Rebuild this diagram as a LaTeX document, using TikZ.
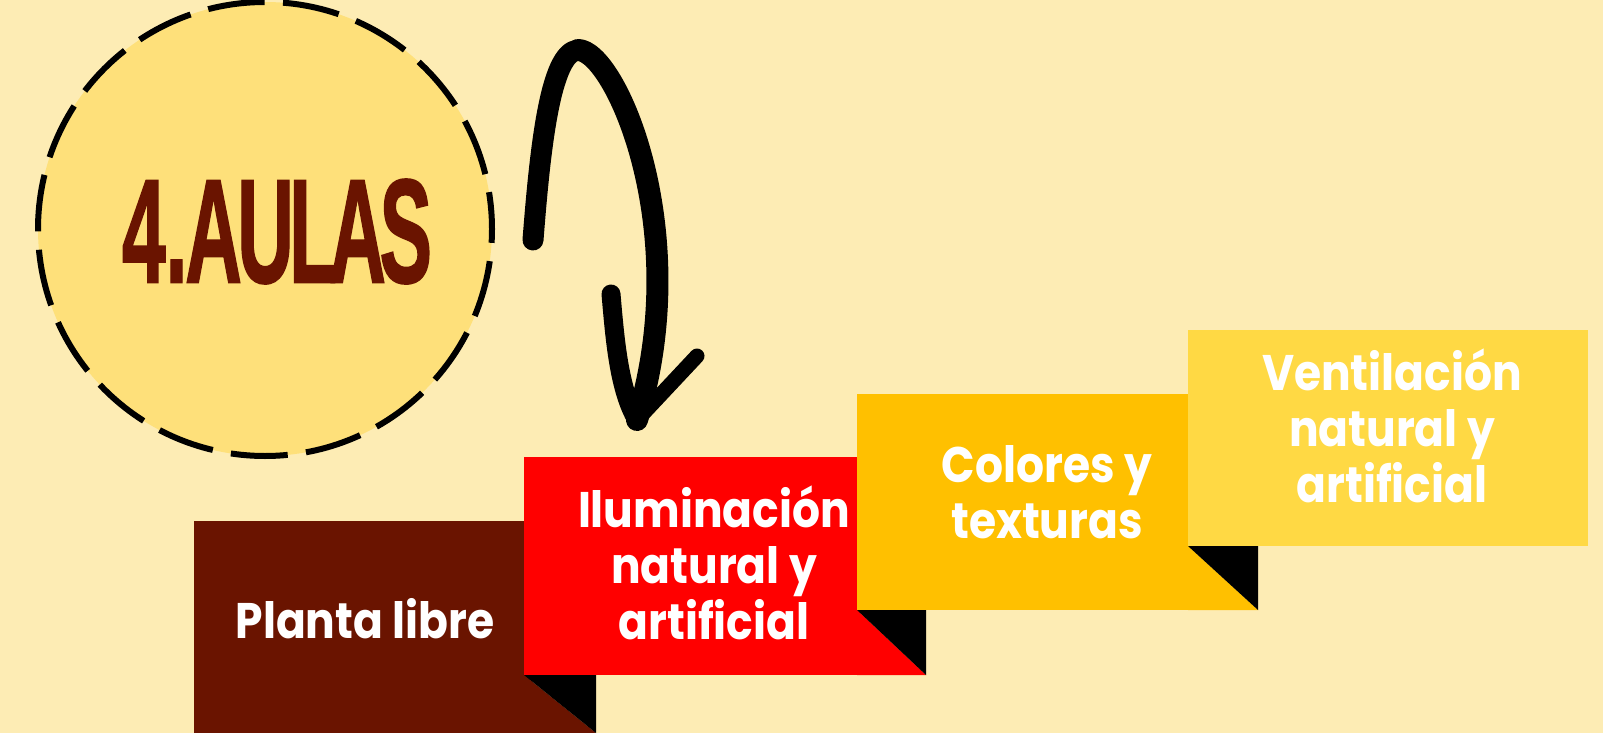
\documentclass[tikz,border=0pt]{standalone}
\usepackage{fontspec}
\newfontfamily\boxfont{Poppins}
\newfontfamily\titlefont[FakeBold=1.5]{Liberation Sans}
\definecolor{bgc}{HTML}{FDECB4}
\definecolor{circfill}{HTML}{FEE07A}
\definecolor{brownc}{HTML}{6A1400}
\definecolor{redc}{HTML}{FF0000}
\definecolor{orangec}{HTML}{FFC000}
\definecolor{yellowc}{HTML}{FFD944}
\tikzset{
  lbl/.style={text=white, font=\boxfont\bfseries\fontsize{50}{56}\selectfont, align=center, inner sep=0pt, transform shape, xscale=0.88},
  fold/.style={fill=black},
  arrowstroke/.style={draw=black, line cap=round, line join=round},
}
\begin{document}
\begin{tikzpicture}[x=1pt,y=-1pt]
\useasboundingbox (0,0) rectangle (1603,733);
\fill[bgc] (0,0) rectangle (1603,733);

% circle
\node[circle, fill=circfill, draw=black, line width=6pt, dash pattern=on 57pt off 18.4pt, dash phase=20pt, minimum size=454pt, inner sep=0pt] (circ) at (265,229) {};
\node[inner sep=0pt, text=brownc] (title) at (277,231.5) {\resizebox{310pt}{103pt}{\titlefont\bfseries 4.\kern-0.03em A\kern-0.06em U\kern-0.06em L\kern-0.1em A\kern-0.08em S}};

% curved arrow
\coordinate (a0) at (533,240);
\coordinate (atop) at (578,50);
\coordinate (atip) at (637,420);
\coordinate (hl0) at (611,294);
\coordinate (hr0) at (697,356);
\draw[arrowstroke, line width=21pt] (a0) .. controls (540,150) and (550,52) .. (atop);
\draw[arrowstroke, line width=22pt] (atop) .. controls (615,50) and (695,230) .. (atip);
\draw[arrowstroke, line width=19pt] (hl0) .. controls (615,340) and (619,390) .. (atip);
\draw[arrowstroke, line width=15pt] (hr0) -- (atip);

% brown box
\fill[brownc] (194,521) rectangle (530,733);
\fill[brownc] (524,675) -- (596,733) -- (524,733) -- cycle;
\fill[fold] (524,675) -- (596,675) -- (596,733) -- cycle;
% red box
\fill[redc] (524,457) rectangle (860,675);
\fill[redc] (857,610) -- (926,675) -- (857,675) -- cycle;
\fill[fold] (857,610) -- (926,610) -- (926,675) -- cycle;
% orange box
\fill[orangec] (857,394) rectangle (1191,610);
\fill[orangec] (1188,546) -- (1258,610) -- (1188,610) -- cycle;
\fill[fold] (1188,546) -- (1258,546) -- (1258,610) -- cycle;
% yellow box
\fill[yellowc] (1188,330) rectangle (1588,546);

% labels
\node[lbl] (t1) at (365,619) {Planta libre};
\node[lbl] (t2) at (714,563) {Iluminación\\natural y\\artificial};
\node[lbl] (t3) at (1047,492) {Colores y\\texturas};
\node[lbl] (t4) at (1392,426) {Ventilación\\natural y\\artificial};
\end{tikzpicture}
\end{document}
